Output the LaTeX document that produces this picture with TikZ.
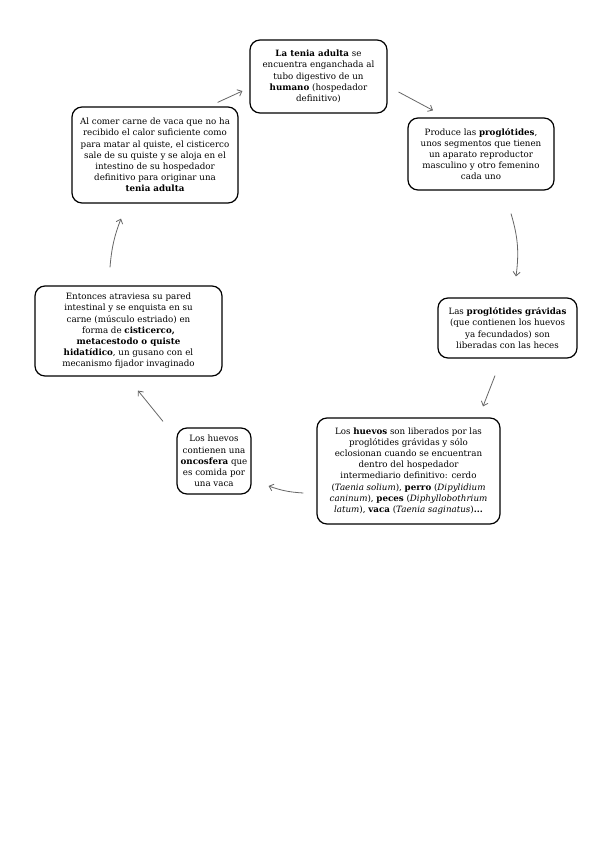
\documentclass[tikz,border=0pt]{standalone}
\usepackage{fontspec}
\setmainfont{DejaVu Serif}
\usepackage{tikz}
\usetikzlibrary{arrows.meta}
\tikzset{
  stage/.style={
    draw, line width=1.2pt, rounded corners=10pt, fill=white,
    align=center, inner sep=2pt,
    font=\fontsize{8.7pt}{11.2pt}\selectfont
  },
  flow/.style={-{Straight Barb[length=4pt, width=7pt]}, line width=0.8pt, black!60},
}

\begin{document}
\begin{tikzpicture}[x=1pt, y=-1pt]
\useasboundingbox (0,0) rectangle (599,848);

%% ── stages of the life cycle (clockwise from the top) ─────────────
\node[stage, minimum width=137pt, minimum height=73pt] (adult) at (318.5,76.5)
  {\textbf{La tenia adulta} se\\encuentra enganchada al\\tubo digestivo de un\\\textbf{humano} (hospedador\\definitivo)};
\node[stage, minimum width=146pt, minimum height=72pt] (proglot) at (481,154)
  {Produce las \textbf{proglótides},\\unos segmentos que tienen\\un aparato reproductor\\masculino y otro femenino\\cada uno};
\node[stage, minimum width=139pt, minimum height=60pt] (gravid) at (507.5,328)
  {Las \textbf{proglótides grávidas}\\(que contienen los huevos\\ya fecundados) son\\liberadas con las heces};
\node[stage, minimum width=183pt, minimum height=106pt] (eggs) at (408.5,471)
  {Los \textbf{huevos} son liberados por las\\proglótides grávidas y sólo\\eclosionan cuando se encuentran\\dentro del hospedador\\intermediario definitivo: cerdo\\(\textit{Taenia solium}), \textbf{perro} (\textit{Dipylidium}\\\textit{caninum}), \textbf{peces} (\textit{Diphyllobothrium}\\\textit{latum}), \textbf{vaca} (\textit{Taenia saginatus})\textbf{...}};
\node[stage, minimum width=74pt, minimum height=66pt] (oncos) at (214,461)
  {Los huevos\\contienen una\\\textbf{oncosfera} que\\es comida por\\una vaca};
\node[stage, minimum width=187pt, minimum height=90pt] (cyst) at (128.5,331)
  {Entonces atraviesa su pared\\intestinal y se enquista en su\\carne (músculo estriado) en\\forma de \textbf{cisticerco,}\\\textbf{metacestodo o quiste}\\\textbf{hidatídico}, un gusano con el\\mecanismo fijador invaginado};
\node[stage, minimum width=166pt, minimum height=96pt] (ingest) at (155,155)
  {Al comer carne de vaca que no ha\\recibido el calor suficiente como\\para matar al quiste, el cisticerco\\sale de su quiste y se aloja en el\\intestino de su hospedador\\definitivo para originar una\\\textbf{tenia adulta}};

%% ── connectors (free-floating, short gaps to the boxes) ───────────
\draw[flow] ([shift={(-21,-4)}]ingest.north east) -- ([shift={(-7,14.5)}]adult.west);
\draw[flow] ([shift={(11,15.5)}]adult.east) -- ([shift={(-48,-7)}]proglot.north);
\draw[flow] ([shift={(30,23)}]proglot.south) to[bend left=12] ([shift={(8.5,-21)}]gravid.north);
\draw[flow] ([shift={(-12.5,17)}]gravid.south) -- ([shift={(74.5,-11)}]eggs.north);
\draw[flow] ([shift={(-13,22)}]eggs.west) to[bend left=8] ([shift={(17,25)}]oncos.east);
\draw[flow] ([shift={(-51,-6)}]oncos.north) -- ([shift={(9.5,14)}]cyst.south);
\draw[flow] ([shift={(-18.5,-18)}]cyst.north) to[bend left=8] ([shift={(-34,15)}]ingest.south);

\end{tikzpicture}
\end{document}
